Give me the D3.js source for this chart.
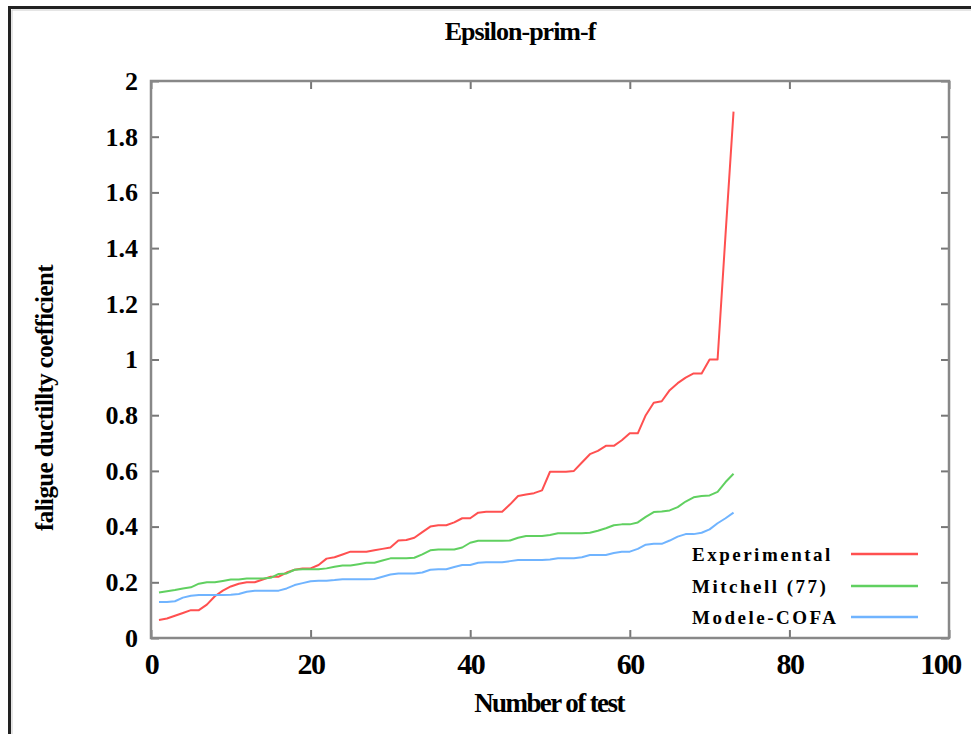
<!DOCTYPE html>
<html>
<head>
<meta charset="utf-8">
<title>Epsilon-prim-f</title>
<script src="https://cdn.jsdelivr.net/npm/d3@7/dist/d3.min.js"></script>
<style>
    body { margin: 0; background: #fff; }
    #chart-area { width: 971px; height: 734px; }
</style>
</head>
<body>
<div id="chart-area"></div>
<script>

// test numbers 1..73 (sorted results)
let testNumbers = d3.range(1, 74);

let experimental = [0.065, 0.07, 0.08, 0.09, 0.10, 0.10, 0.12, 0.15, 0.17, 0.185,
    0.195, 0.20, 0.20, 0.21, 0.22, 0.22, 0.235, 0.245, 0.25, 0.25,
    0.262, 0.285, 0.29, 0.30, 0.31, 0.31, 0.31, 0.315, 0.32, 0.325,
    0.35, 0.352, 0.36, 0.38, 0.40, 0.405, 0.405, 0.415, 0.43, 0.43,
    0.45, 0.453, 0.453, 0.453, 0.48, 0.51, 0.515, 0.52, 0.53, 0.597,
    0.597, 0.597, 0.60, 0.63, 0.66, 0.672, 0.69, 0.69, 0.71, 0.735,
    0.735, 0.80, 0.845, 0.85, 0.89, 0.915, 0.935, 0.95, 0.95, 1.0,
    1.0, 1.45, 1.89];

let mitchell = [0.163, 0.168, 0.172, 0.178, 0.182, 0.195, 0.2, 0.2, 0.205, 0.21,
    0.21, 0.214, 0.214, 0.214, 0.216, 0.23, 0.232, 0.245, 0.247, 0.247,
    0.247, 0.25, 0.256, 0.26, 0.26, 0.265, 0.27, 0.27, 0.278, 0.286,
    0.286, 0.286, 0.288, 0.30, 0.315, 0.318, 0.318, 0.318, 0.325, 0.342,
    0.349, 0.349, 0.349, 0.349, 0.35, 0.36, 0.366, 0.366, 0.366, 0.37,
    0.376, 0.376, 0.376, 0.376, 0.378, 0.385, 0.394, 0.405, 0.408, 0.408,
    0.415, 0.435, 0.452, 0.454, 0.458, 0.47, 0.49, 0.505, 0.51, 0.512,
    0.525, 0.56, 0.59];

let modeleCofa = [0.129, 0.129, 0.132, 0.145, 0.152, 0.154, 0.154, 0.154, 0.154, 0.155,
    0.158, 0.166, 0.17, 0.17, 0.17, 0.17, 0.178, 0.19, 0.197, 0.204,
    0.206, 0.206, 0.208, 0.211, 0.211, 0.211, 0.211, 0.212, 0.22, 0.228,
    0.232, 0.232, 0.232, 0.235, 0.245, 0.247, 0.247, 0.255, 0.262, 0.262,
    0.27, 0.272, 0.272, 0.272, 0.276, 0.28, 0.28, 0.28, 0.28, 0.282,
    0.286, 0.286, 0.286, 0.29, 0.298, 0.298, 0.298, 0.305, 0.31, 0.31,
    0.32, 0.335, 0.338, 0.338, 0.35, 0.364, 0.373, 0.373, 0.378, 0.39,
    0.412, 0.43, 0.45];

let seriesNames = ["Experimental", "Mitchell (77)", "Modele-COFA"];
let seriesColors = ["#ff5050", "#60d060", "#70b4ff"];

let xTicks = [0, 20, 40, 60, 80, 100];
let yTicks = [0, 0.2, 0.4, 0.6, 0.8, 1, 1.2, 1.4, 1.6, 1.8, 2];

const SERIF = "'Liberation Serif', 'Times New Roman', Times, 'DejaVu Serif', serif";


class LineChart {

    constructor(parentElement) {
        this.parentElement = parentElement;
        this.series = [experimental, mitchell, modeleCofa].map((vals, i) => ({
            name: seriesNames[i],
            color: seriesColors[i],
            values: vals.map((v, j) => ({x: testNumbers[j], y: v}))
        }));
        this.initVis();
    }

    // bold serif text helper
    label(sel, size, spacing) {
        return sel.attr("font-family", SERIF)
            .attr("font-weight", "bold")
            .attr("font-size", size)
            .attr("letter-spacing", spacing)
            .attr("fill", "#000");
    }

    initVis() {
        let vis = this;

        vis.margin = {top: 81, right: 22, bottom: 96, left: 151};
        vis.width = 971 - vis.margin.left - vis.margin.right;
        vis.height = 734 - vis.margin.top - vis.margin.bottom;

        let root = d3.select("#" + vis.parentElement).append("svg")
            .attr("width", 971)
            .attr("height", 734);

        // outer frame (right and bottom edges fall outside the picture)
        root.append("path")
            .attr("d", "M9.5,740 V7.5 H975")
            .attr("fill", "none")
            .attr("stroke", "#222")
            .attr("stroke-width", 3);
        root.append("path")
            .attr("d", "M12,740 V10 H975")
            .attr("fill", "none")
            .attr("stroke", "#ccc")
            .attr("stroke-width", 1);

        vis.label(root.append("text"), 26, -1)
            .attr("x", 520)
            .attr("y", 40)
            .attr("text-anchor", "middle")
            .text("Epsilon-prim-f");

        vis.label(root.append("text"), 25, -0.6)
            .attr("transform", "translate(53,398) rotate(-90)")
            .attr("text-anchor", "middle")
            .text("faligue ductillty coefficient");

        vis.label(root.append("text"), 27, -1.6)
            .attr("x", 549)
            .attr("y", 712)
            .attr("text-anchor", "middle")
            .text("Number of test");

        vis.svg = root.append("g")
            .attr("transform", "translate(" + vis.margin.left + "," + vis.margin.top + ")");

        vis.x = d3.scaleLinear().domain([0, 100]).range([0, vis.width]);
        vis.y = d3.scaleLinear().domain([0, 2]).range([vis.height, 0]);

        // inward ticks, mirrored on all four sides
        let tickLen = 8;
        vis.svg.append("g")
            .attr("class", "x-axis")
            .attr("transform", "translate(0," + vis.height + ")")
            .call(d3.axisBottom(vis.x).tickValues(xTicks).tickSize(-tickLen).tickPadding(tickLen + 7));
        vis.svg.append("g")
            .attr("class", "x-axis-top")
            .call(d3.axisTop(vis.x).tickValues(xTicks).tickSize(-tickLen).tickFormat(""));
        vis.svg.append("g")
            .attr("class", "y-axis")
            .call(d3.axisLeft(vis.y).tickValues(yTicks).tickSize(-tickLen).tickPadding(tickLen + 5)
                .tickFormat(d3.format("")));
        vis.svg.append("g")
            .attr("class", "y-axis-right")
            .attr("transform", "translate(" + vis.width + ",0)")
            .call(d3.axisRight(vis.y).tickValues(yTicks).tickSize(-tickLen).tickFormat(""));

        vis.svg.selectAll(".domain").remove();
        vis.svg.selectAll(".tick line").attr("stroke", "#777").attr("stroke-width", 2);
        vis.label(vis.svg.selectAll(".y-axis .tick text"), 26, 0);
        vis.label(vis.svg.selectAll(".x-axis .tick text"), 30, -1.5);
        // last label pulled back inside the canvas, as in the original
        vis.svg.selectAll(".x-axis .tick text").filter(d => d === 100).attr("dx", -9);

        vis.svg.append("rect")
            .attr("width", vis.width)
            .attr("height", vis.height)
            .attr("fill", "none")
            .attr("stroke", "#888")
            .attr("stroke-width", 2.5);

        vis.updateVis();
    }

    updateVis() {
        let vis = this;

        let line = d3.line()
            .x(d => vis.x(d.x))
            .y(d => vis.y(d.y));

        vis.svg.selectAll(".line")
            .data(vis.series)
            .enter().append("path")
            .attr("class", "line")
            .attr("fill", "none")
            .attr("stroke", d => d.color)
            .attr("stroke-width", 2)
            .attr("stroke-linejoin", "round")
            .attr("d", d => line(d.values));

        // key, bottom right inside the plot
        let legend = vis.svg.selectAll(".legend")
            .data(vis.series)
            .enter().append("g")
            .attr("class", "legend")
            .attr("transform", (d, i) => "translate(0," + ([554, 586, 617][i] - vis.margin.top) + ")");

        vis.label(legend.append("text"), 19, 2.5)
            .attr("x", 692 - vis.margin.left)
            .attr("y", 7)
            .text(d => d.name);

        legend.append("line")
            .attr("x1", 851 - vis.margin.left)
            .attr("x2", 918 - vis.margin.left)
            .attr("stroke", d => d.color)
            .attr("stroke-width", 2.5);
    }
}

new LineChart("chart-area");

</script>
</body>
</html>
